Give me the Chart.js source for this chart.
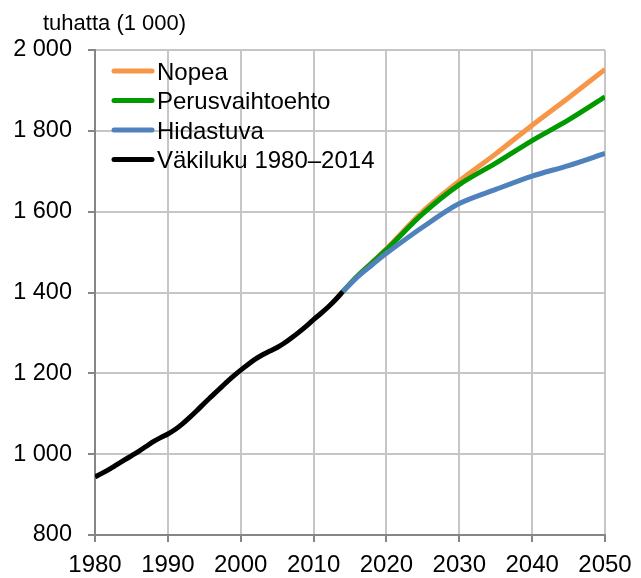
<!DOCTYPE html>
<html>
<head>
<meta charset="utf-8">
<script src="https://cdn.jsdelivr.net/npm/chart.js@4"></script>
<style>
    body { margin: 0; background: #fff; }
    canvas { display: block; }
</style>
</head>
<body>
<canvas id="lineChart" width="641" height="578"></canvas>
<script>
const histYears = [1980, 1981, 1982, 1983, 1984, 1985, 1986, 1987, 1988, 1989,
    1990, 1991, 1992, 1993, 1994, 1995, 1996, 1997, 1998, 1999,
    2000, 2001, 2002, 2003, 2004, 2005, 2006, 2007, 2008, 2009,
    2010, 2011, 2012, 2013, 2014];
const histValues = [944, 953, 963, 974, 985, 996, 1007, 1019, 1031, 1041,
    1050, 1061, 1075, 1091, 1108, 1126, 1143, 1160, 1177, 1193,
    1208, 1222, 1235, 1246, 1255, 1264, 1275, 1288, 1302, 1317,
    1333, 1348, 1364, 1382, 1402];

const projYears = [2014, 2016, 2018, 2020, 2025, 2030, 2035, 2040, 2045, 2050];
const nopea = [1402, 1440, 1474, 1508, 1601, 1676, 1743, 1814, 1882, 1952];
const perus = [1402, 1440, 1473, 1506, 1595, 1667, 1720, 1776, 1827, 1884];
const hidas = [1402, 1438, 1468, 1497, 1562, 1620, 1655, 1688, 1714, 1744];

const yearTicks = [1980, 1990, 2000, 2010, 2020, 2030, 2040, 2050];
const valueTicks = [800, 1000, 1200, 1400, 1600, 1800, 2000];

const FONT = "'Liberation Sans', Arial, sans-serif";

const toPoints = (xs, ys) => xs.map((x, i) => ({ x: x, y: ys[i] }));

const fmtThousands = (v) => {
    if (v < 1000) return String(v);
    return Math.floor(v / 1000) + " " + String(v % 1000).padStart(3, "0");
};

// title above the y axis and the legend inside the plot
const extras = {
    id: "extras",
    afterDraw(chart) {
        const ctx = chart.ctx;
        const area = chart.chartArea;
        ctx.save();
        ctx.fillStyle = "#000";
        ctx.textBaseline = "alphabetic";
        ctx.font = "22px " + FONT;
        ctx.fillText("tuhatta (1 000)", 43, 30);

        ctx.font = "24px " + FONT;
        chart.data.datasets.forEach((ds, i) => {
            const y = area.top + 21 + i * 29.5;
            ctx.strokeStyle = ds.borderColor;
            ctx.lineWidth = 5;
            ctx.lineCap = "round";
            ctx.beginPath();
            ctx.moveTo(area.left + 19, y);
            ctx.lineTo(area.left + 57, y);
            ctx.stroke();
            ctx.fillText(ds.label, area.left + 62, y + 8.5);
        });
        ctx.restore();
    },
};

const line = (label, data, color, order) => ({
    label: label,
    data: data,
    borderColor: color,
    backgroundColor: color,
    borderWidth: 5,
    pointRadius: 0,
    tension: 0.3,
    order: order,
});

new Chart(document.getElementById("lineChart").getContext("2d"), {
    type: "line",
    data: {
        datasets: [
            line("Nopea", toPoints(projYears, nopea), "#F79646", 4),
            line("Perusvaihtoehto", toPoints(projYears, perus), "#009A00", 3),
            line("Hidastuva", toPoints(projYears, hidas), "#4F81BD", 2),
            line("Väkiluku 1980–2014", toPoints(histYears, histValues), "#000000", 1),
        ],
    },
    options: {
        responsive: false,
        animation: false,
        layout: {
            padding: { top: 50, right: 36, left: 0, bottom: 0 },
        },
        plugins: {
            legend: { display: false },
            tooltip: { enabled: false },
        },
        scales: {
            x: {
                type: "linear",
                min: 1980,
                max: 2050,
                afterBuildTicks: (scale) => {
                    scale.ticks = yearTicks.map((v) => ({ value: v }));
                },
                afterFit: (scale) => {
                    scale.height = 43;
                },
                ticks: {
                    color: "#000",
                    font: { family: FONT, size: 24 },
                    padding: 9,
                    maxRotation: 0,
                    callback: (v) => String(v),
                },
                grid: {
                    color: "#c6c6c6",
                    lineWidth: 2,
                    tickColor: "#868686",
                    tickLength: 7,
                },
                border: { color: "#868686", width: 2 },
            },
            y: {
                min: 800,
                max: 2000,
                afterBuildTicks: (scale) => {
                    scale.ticks = valueTicks.map((v) => ({ value: v }));
                },
                afterFit: (scale) => {
                    scale.width = 95;
                },
                ticks: {
                    color: "#000",
                    font: { family: FONT, size: 23.5 },
                    padding: 16,
                    callback: (v) => fmtThousands(v),
                },
                grid: {
                    color: "#c6c6c6",
                    lineWidth: 2,
                    tickColor: "#868686",
                    tickLength: 7,
                },
                border: { color: "#868686", width: 2 },
            },
        },
    },
    plugins: [extras],
});
</script>
</body>
</html>
